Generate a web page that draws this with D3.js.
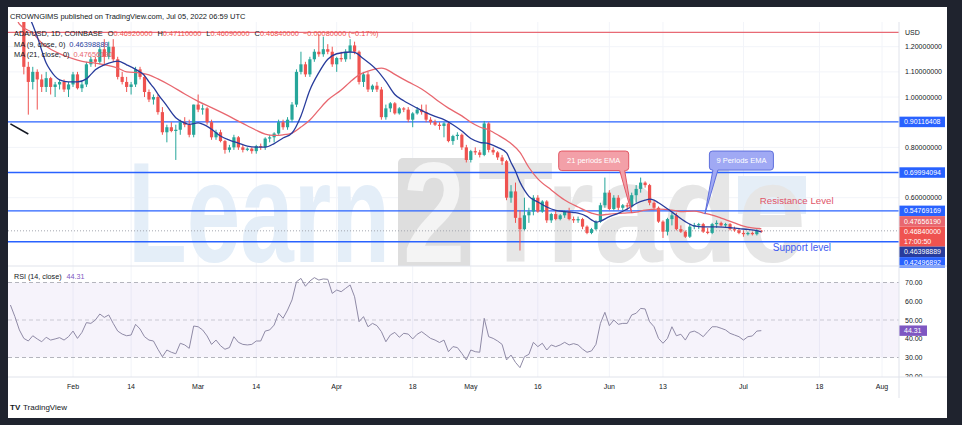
<!DOCTYPE html>
<html>
<head>
<meta charset="utf-8">
<script src="https://cdn.jsdelivr.net/npm/d3@7"></script>
<style>
html, body { margin: 0; padding: 0; background: #1f232e; }
svg { display: block; }
text { font-family: "Liberation Sans", Arial, sans-serif; }
</style>
</head>
<body>
<svg id="chart" width="962" height="425"></svg>
<script>
// ADA/USD daily candles, first one is Jan 21 2022, one row per day: [open, high, low, close]
const candleStart = "2022-01-21";
const candles = [
  [1.36, 1.37, 1.09, 1.12], [1.12, 1.14, 0.93, 1.06], [1.06, 1.12, 1.03, 1.10], [1.10, 1.11, 0.95, 1.07], [1.07, 1.09, 1.02, 1.04],
  [1.04, 1.10, 1.02, 1.075], [1.075, 1.08, 1.01, 1.04], [1.04, 1.06, 1.00, 1.05], [1.05, 1.07, 1.03, 1.06], [1.06, 1.07, 1.02, 1.03],
  [1.03, 1.06, 1.00, 1.05], [1.05, 1.10, 1.04, 1.09], [1.09, 1.10, 1.03, 1.035], [1.035, 1.06, 1.02, 1.05], [1.05, 1.14, 1.04, 1.13],
  [1.13, 1.16, 1.12, 1.15], [1.15, 1.16, 1.12, 1.14], [1.14, 1.20, 1.13, 1.19], [1.19, 1.23, 1.13, 1.16], [1.16, 1.22, 1.15, 1.20],
  [1.20, 1.23, 1.14, 1.15], [1.15, 1.16, 1.07, 1.08], [1.08, 1.10, 1.05, 1.06], [1.06, 1.08, 1.02, 1.04], [1.04, 1.06, 1.01, 1.05],
  [1.05, 1.12, 1.04, 1.11], [1.11, 1.12, 1.07, 1.08], [1.08, 1.09, 1.00, 1.02], [1.02, 1.03, 0.98, 0.99], [0.99, 1.01, 0.97, 1.00],
  [1.00, 1.01, 0.93, 0.94], [0.94, 0.96, 0.85, 0.86], [0.86, 0.89, 0.82, 0.88], [0.88, 0.90, 0.86, 0.865], [0.865, 0.89, 0.75, 0.87],
  [0.87, 0.91, 0.85, 0.90], [0.90, 0.92, 0.88, 0.89], [0.89, 0.91, 0.84, 0.85], [0.85, 0.97, 0.84, 0.97], [0.97, 1.01, 0.94, 0.95],
  [0.95, 0.97, 0.93, 0.955], [0.955, 0.96, 0.89, 0.90], [0.90, 0.91, 0.83, 0.84], [0.84, 0.87, 0.83, 0.86], [0.86, 0.87, 0.82, 0.825],
  [0.825, 0.83, 0.775, 0.79], [0.79, 0.81, 0.78, 0.80], [0.80, 0.85, 0.79, 0.84], [0.84, 0.845, 0.79, 0.80], [0.80, 0.81, 0.78, 0.79],
  [0.79, 0.80, 0.785, 0.795], [0.795, 0.80, 0.775, 0.785], [0.785, 0.81, 0.775, 0.805], [0.805, 0.815, 0.79, 0.80], [0.80, 0.84, 0.79, 0.835],
  [0.835, 0.85, 0.82, 0.84], [0.84, 0.86, 0.82, 0.855], [0.855, 0.91, 0.85, 0.90], [0.90, 0.91, 0.87, 0.88], [0.88, 0.92, 0.87, 0.91],
  [0.91, 0.98, 0.90, 0.97], [0.97, 1.11, 0.96, 1.10], [1.10, 1.18, 1.09, 1.13], [1.13, 1.14, 1.08, 1.09], [1.09, 1.16, 1.08, 1.15],
  [1.15, 1.19, 1.14, 1.18], [1.18, 1.25, 1.16, 1.17], [1.17, 1.24, 1.16, 1.19], [1.19, 1.21, 1.17, 1.18], [1.18, 1.20, 1.12, 1.13],
  [1.13, 1.16, 1.10, 1.155], [1.155, 1.18, 1.14, 1.15], [1.15, 1.19, 1.14, 1.18], [1.18, 1.23, 1.15, 1.205], [1.205, 1.22, 1.17, 1.18],
  [1.18, 1.185, 1.05, 1.06], [1.06, 1.10, 1.04, 1.09], [1.09, 1.10, 1.02, 1.03], [1.03, 1.05, 1.02, 1.045], [1.045, 1.06, 1.02, 1.03],
  [1.03, 1.04, 0.91, 0.92], [0.92, 0.97, 0.91, 0.955], [0.955, 0.98, 0.94, 0.975], [0.975, 0.98, 0.93, 0.935], [0.935, 0.96, 0.93, 0.955],
  [0.955, 0.96, 0.94, 0.95], [0.95, 0.96, 0.90, 0.91], [0.91, 0.94, 0.88, 0.935], [0.935, 0.96, 0.93, 0.95], [0.95, 0.97, 0.93, 0.94],
  [0.94, 0.97, 0.90, 0.91], [0.91, 0.92, 0.89, 0.90], [0.90, 0.91, 0.885, 0.89], [0.89, 0.90, 0.87, 0.885], [0.885, 0.90, 0.84, 0.895],
  [0.895, 0.90, 0.82, 0.825], [0.825, 0.85, 0.81, 0.845], [0.845, 0.86, 0.83, 0.85], [0.85, 0.855, 0.79, 0.80], [0.80, 0.81, 0.74, 0.75],
  [0.75, 0.79, 0.74, 0.785], [0.785, 0.80, 0.77, 0.78], [0.78, 0.79, 0.76, 0.77], [0.77, 0.905, 0.765, 0.895], [0.895, 0.90, 0.78, 0.79],
  [0.79, 0.80, 0.77, 0.78], [0.78, 0.785, 0.75, 0.76], [0.76, 0.77, 0.73, 0.745], [0.745, 0.75, 0.59, 0.60], [0.60, 0.65, 0.58, 0.625],
  [0.625, 0.66, 0.50, 0.52], [0.52, 0.55, 0.39, 0.475], [0.475, 0.60, 0.47, 0.53], [0.53, 0.56, 0.50, 0.545], [0.545, 0.61, 0.53, 0.60],
  [0.60, 0.61, 0.54, 0.545], [0.545, 0.59, 0.54, 0.585], [0.585, 0.59, 0.50, 0.51], [0.51, 0.54, 0.50, 0.535], [0.535, 0.55, 0.51, 0.515],
  [0.515, 0.535, 0.51, 0.53], [0.53, 0.55, 0.52, 0.545], [0.545, 0.56, 0.51, 0.515], [0.515, 0.525, 0.50, 0.51], [0.51, 0.525, 0.50, 0.515],
  [0.515, 0.52, 0.475, 0.485], [0.485, 0.49, 0.455, 0.46], [0.46, 0.48, 0.455, 0.475], [0.475, 0.51, 0.47, 0.505], [0.505, 0.58, 0.50, 0.57],
  [0.57, 0.68, 0.56, 0.62], [0.62, 0.63, 0.55, 0.555], [0.555, 0.61, 0.55, 0.60], [0.60, 0.61, 0.55, 0.56], [0.56, 0.575, 0.55, 0.57],
  [0.57, 0.58, 0.55, 0.565], [0.565, 0.62, 0.56, 0.61], [0.61, 0.65, 0.58, 0.635], [0.635, 0.68, 0.62, 0.66], [0.66, 0.665, 0.64, 0.65],
  [0.65, 0.655, 0.57, 0.58], [0.58, 0.59, 0.55, 0.56], [0.56, 0.565, 0.50, 0.505], [0.505, 0.51, 0.44, 0.465], [0.465, 0.52, 0.45, 0.515],
  [0.515, 0.54, 0.49, 0.53], [0.53, 0.54, 0.47, 0.475], [0.475, 0.49, 0.46, 0.465], [0.465, 0.47, 0.44, 0.445], [0.445, 0.495, 0.44, 0.485],
  [0.485, 0.50, 0.475, 0.49], [0.49, 0.50, 0.475, 0.495], [0.495, 0.50, 0.46, 0.465], [0.465, 0.48, 0.455, 0.46], [0.46, 0.50, 0.455, 0.495],
  [0.495, 0.51, 0.48, 0.50], [0.50, 0.505, 0.485, 0.49], [0.49, 0.50, 0.48, 0.495], [0.495, 0.50, 0.47, 0.475], [0.475, 0.485, 0.465, 0.47],
  [0.47, 0.48, 0.455, 0.46], [0.46, 0.47, 0.445, 0.455], [0.455, 0.465, 0.45, 0.46], [0.46, 0.465, 0.45, 0.455], [0.455, 0.475, 0.45, 0.4692],
  [0.4692, 0.4711, 0.4609, 0.4684]
];

// moving averages
const ma9 = [
  ["2022-01-22", 1.33], ["2022-01-23", 1.286], ["2022-01-24", 1.24], ["2022-01-25", 1.185], ["2022-01-26", 1.135],
  ["2022-01-27", 1.105], ["2022-01-28", 1.082], ["2022-01-29", 1.068], ["2022-01-31", 1.06], ["2022-02-02", 1.06],
  ["2022-02-04", 1.072], ["2022-02-05", 1.09], ["2022-02-06", 1.108], ["2022-02-08", 1.128], ["2022-02-10", 1.14],
  ["2022-02-11", 1.143], ["2022-02-13", 1.128], ["2022-02-15", 1.11], ["2022-02-17", 1.085], ["2022-02-18", 1.06],
  ["2022-02-19", 1.038], ["2022-02-20", 1.012], ["2022-02-22", 0.965], ["2022-02-24", 0.918], ["2022-02-26", 0.897],
  ["2022-02-27", 0.891], ["2022-03-01", 0.897], ["2022-03-02", 0.892], ["2022-03-04", 0.872], ["2022-03-06", 0.845],
  ["2022-03-08", 0.829], ["2022-03-10", 0.817], ["2022-03-12", 0.805], ["2022-03-14", 0.801], ["2022-03-16", 0.801],
  ["2022-03-18", 0.815], ["2022-03-20", 0.837], ["2022-03-22", 0.857], ["2022-03-24", 0.925], ["2022-03-26", 1.028],
  ["2022-03-28", 1.097], ["2022-03-30", 1.15], ["2022-04-01", 1.172], ["2022-04-04", 1.179], ["2022-04-05", 1.177],
  ["2022-04-07", 1.152], ["2022-04-10", 1.107], ["2022-04-12", 1.062], ["2022-04-14", 1.01], ["2022-04-16", 0.985],
  ["2022-04-19", 0.956], ["2022-04-21", 0.938], ["2022-04-23", 0.923], ["2022-04-25", 0.91], ["2022-04-27", 0.89],
  ["2022-04-29", 0.865], ["2022-05-01", 0.835], ["2022-05-03", 0.82], ["2022-05-05", 0.815], ["2022-05-07", 0.80],
  ["2022-05-09", 0.778], ["2022-05-10", 0.74], ["2022-05-11", 0.705], ["2022-05-12", 0.662], ["2022-05-13", 0.63],
  ["2022-05-14", 0.605], ["2022-05-16", 0.583], ["2022-05-18", 0.563], ["2022-05-20", 0.55], ["2022-05-22", 0.545],
  ["2022-05-24", 0.541], ["2022-05-25", 0.539], ["2022-05-27", 0.525], ["2022-05-28", 0.512], ["2022-05-29", 0.503],
  ["2022-05-30", 0.507], ["2022-06-01", 0.525], ["2022-06-03", 0.538], ["2022-06-05", 0.555], ["2022-06-07", 0.577],
  ["2022-06-09", 0.59], ["2022-06-10", 0.594], ["2022-06-11", 0.59], ["2022-06-12", 0.58], ["2022-06-14", 0.556],
  ["2022-06-16", 0.53], ["2022-06-18", 0.505], ["2022-06-20", 0.488], ["2022-06-22", 0.484], ["2022-06-25", 0.484],
  ["2022-06-28", 0.481], ["2022-06-30", 0.477], ["2022-07-02", 0.474], ["2022-07-04", 0.469], ["2022-07-05", 0.46398889]
];
const ma21 = [
  ["2022-01-19", 1.33], ["2022-01-20", 1.29], ["2022-01-23", 1.254], ["2022-01-25", 1.215], ["2022-01-27", 1.19],
  ["2022-01-30", 1.165], ["2022-02-02", 1.147], ["2022-02-04", 1.139], ["2022-02-06", 1.135], ["2022-02-09", 1.125],
  ["2022-02-11", 1.115], ["2022-02-13", 1.10], ["2022-02-16", 1.096], ["2022-02-18", 1.088], ["2022-02-20", 1.072],
  ["2022-02-23", 1.044], ["2022-02-26", 1.012], ["2022-03-01", 0.983], ["2022-03-04", 0.958], ["2022-03-07", 0.932],
  ["2022-03-10", 0.904], ["2022-03-12", 0.886], ["2022-03-14", 0.868], ["2022-03-16", 0.853], ["2022-03-18", 0.848],
  ["2022-03-20", 0.85], ["2022-03-22", 0.857], ["2022-03-24", 0.881], ["2022-03-26", 0.909], ["2022-03-28", 0.949],
  ["2022-03-30", 0.988], ["2022-04-02", 1.028], ["2022-04-04", 1.06], ["2022-04-06", 1.088], ["2022-04-08", 1.103],
  ["2022-04-11", 1.115], ["2022-04-12", 1.111], ["2022-04-14", 1.09], ["2022-04-17", 1.06], ["2022-04-20", 1.032],
  ["2022-04-22", 1.007], ["2022-04-24", 0.98], ["2022-04-26", 0.956], ["2022-04-29", 0.925], ["2022-05-01", 0.90],
  ["2022-05-03", 0.881], ["2022-05-05", 0.869], ["2022-05-07", 0.85], ["2022-05-10", 0.815], ["2022-05-12", 0.78],
  ["2022-05-14", 0.72], ["2022-05-16", 0.675], ["2022-05-19", 0.631], ["2022-05-22", 0.591], ["2022-05-25", 0.563],
  ["2022-05-28", 0.539], ["2022-05-30", 0.531], ["2022-06-01", 0.535], ["2022-06-04", 0.539], ["2022-06-07", 0.543],
  ["2022-06-09", 0.551], ["2022-06-12", 0.555], ["2022-06-15", 0.551], ["2022-06-17", 0.545], ["2022-06-20", 0.547],
  ["2022-06-22", 0.539], ["2022-06-24", 0.531], ["2022-06-26", 0.519], ["2022-06-29", 0.50], ["2022-07-01", 0.487],
  ["2022-07-03", 0.48], ["2022-07-05", 0.4765619]
];

// RSI(14), one value per day from Jan 18 2022
const rsiStart = "2022-01-18";
const rsi = [
  58.0, 51.8, 44.7, 40.2, 38.8, 41.6, 39.9, 38.4, 40.8, 39.3, 39.9, 40.6, 39.3, 41.1, 44.1, 40.2, 43.4, 48.6, 48.2, 50.0,
  53.2, 51.4, 52.7, 48.2, 44.1, 42.5, 41.6, 42.0, 47.7, 45.2, 41.1, 39.3, 38.8, 34.4, 30.4, 34.0, 32.8, 32.0, 37.6, 36.7,
  34.9, 46.8, 46.4, 44.7, 41.5, 37.0, 39.3, 36.3, 34.4, 35.3, 41.1, 38.1, 37.0, 36.7, 37.0, 38.8, 38.8, 44.1, 44.7, 47.3,
  53.6, 50.9, 55.3, 60.7, 70.4, 72.2, 68.0, 70.8, 72.6, 71.3, 71.9, 71.7, 64.2, 66.0, 65.1, 66.9, 68.7, 62.4, 49.1, 51.8,
  46.4, 48.2, 47.0, 43.8, 38.4, 42.0, 43.4, 40.8, 42.9, 42.5, 39.9, 42.4, 43.8, 42.0, 40.2, 39.3, 38.0, 39.3, 33.1, 35.8,
  35.3, 32.2, 28.7, 34.0, 33.1, 32.8, 50.9, 41.1, 40.2, 38.8, 37.0, 28.7, 31.3, 27.4, 24.6, 30.4, 31.7, 38.1, 35.8, 37.6,
  34.0, 36.7, 35.8, 36.7, 38.1, 36.7, 37.4, 36.7, 34.5, 32.8, 33.5, 37.0, 48.2, 54.1, 47.0, 50.0, 47.7, 48.2, 48.2, 52.7,
  53.6, 56.2, 55.9, 49.1, 46.4, 40.2, 37.6, 40.2, 46.4, 41.6, 42.4, 39.3, 43.4, 44.1, 42.9, 41.1, 43.8, 46.4, 46.4, 45.6,
  44.7, 42.9, 42.0, 41.1, 39.3, 41.1, 41.5, 44.1, 44.31
];

const levels = [0.90116408, 0.69994094, 0.54769169, 0.42496892];
const topLevel = 1.257;
const priceTicks = [1.2, 1.1, 1.0, 0.8, 0.6];
const rsiTicks = [70, 60, 50, 40, 30, 20];
const timeTicks = [
  ["2022-02-01", "Feb"], ["2022-02-14", "14"], ["2022-03-01", "Mar"], ["2022-03-14", "14"], ["2022-04-01", "Apr"],
  ["2022-04-18", "18"], ["2022-05-01", "May"], ["2022-05-16", "16"], ["2022-06-01", "Jun"], ["2022-06-13", "13"],
  ["2022-07-01", "Jul"], ["2022-07-18", "18"], ["2022-08-01", "Aug"]
];
const trendLine = [["2022-01-18", 0.893], ["2022-01-22", 0.853]];
const lastClose = 0.4684, lastMa9 = 0.46398889, lastMa21 = 0.4765619, lastRsi = 44.31;

const up = "#26a69a", down = "#ef5350";
const ma9Color = "#283c9c", ma21Color = "#e8676f", levelColor = "#2962ff";

const svg = d3.select("#chart");
const pane = {left: 8, right: 899, top: 22, bottom: 266};
const rsiPane = {top: 266, bottom: 377};

const utc = s => new Date(s.length > 10 ? s : s + "T00:00:00Z");
const dayAfter = (start, i) => new Date(utc(start).getTime() + i * 864e5);

const x = d3.scaleUtc().domain([utc("2022-02-01"), utc("2022-08-01")]).range([73, 882]);
const y = d3.scaleLinear().domain([1.2, 0.6]).range([46.7, 197.7]);
const ry = d3.scaleLinear().domain([70, 30]).range([282.5, 357.5]);

const bars = candles.map((r, i) => ({date: dayAfter(candleStart, i), o: r[0], h: r[1], l: r[2], c: r[3]}));

// backgrounds
svg.append("rect").attr("width", 962).attr("height", 425).attr("fill", "#1f232e");
svg.append("rect").attr("x", 8).attr("y", 7).attr("width", 939).attr("height", 411).attr("fill", "#ffffff");

const defs = svg.append("defs");
defs.append("clipPath").attr("id", "mainClip").append("rect")
  .attr("x", pane.left).attr("y", pane.top).attr("width", pane.right - pane.left).attr("height", pane.bottom - pane.top);
defs.append("clipPath").attr("id", "rsiClip").append("rect")
  .attr("x", pane.left).attr("y", rsiPane.top).attr("width", pane.right - pane.left).attr("height", rsiPane.bottom - rsiPane.top);
defs.append("clipPath").attr("id", "rsiAxisClip").append("rect")
  .attr("x", pane.right).attr("y", rsiPane.top).attr("width", 48).attr("height", rsiPane.bottom - rsiPane.top);

// grid
svg.append("g").selectAll("line").data(timeTicks).join("line")
  .attr("x1", d => x(utc(d[0]))).attr("x2", d => x(utc(d[0])))
  .attr("y1", pane.top).attr("y2", rsiPane.bottom)
  .attr("stroke", "#f2f4f9").attr("stroke-width", 1);
svg.append("g").selectAll("line").data(priceTicks).join("line")
  .attr("x1", pane.left).attr("x2", pane.right)
  .attr("y1", d => y(d)).attr("y2", d => y(d))
  .attr("stroke", "#f2f4f9").attr("stroke-width", 1);

// watermark
const wm = svg.append("g").attr("clip-path", "url(#mainClip)").style("font-weight", "bold");
wm.append("text").attr("x", 128).attr("y", 262).attr("font-size", 142)
  .attr("textLength", 262).attr("lengthAdjust", "spacingAndGlyphs")
  .attr("fill", "#e4eef8").text("Learn");
wm.append("rect").attr("x", 398).attr("y", 158).attr("width", 72).attr("height", 112).attr("rx", 5)
  .attr("fill", "#dedede");
wm.append("text").attr("x", 434).attr("y", 262).attr("text-anchor", "middle").attr("font-size", 142)
  .attr("textLength", 62).attr("lengthAdjust", "spacingAndGlyphs")
  .attr("fill", "#f4f4f4").text("2");
wm.append("rect").attr("x", 738).attr("y", 176).attr("width", 68).attr("height", 38).attr("fill", "#e5eef7");
wm.append("text").attr("x", 478).attr("y", 262).attr("font-size", 142)
  .attr("textLength", 328).attr("lengthAdjust", "spacingAndGlyphs")
  .attr("fill", "#e6e6e6").text("Trade");

// RSI band and guides
svg.append("rect").attr("x", pane.left).attr("y", ry(70)).attr("width", pane.right - pane.left)
  .attr("height", ry(30) - ry(70)).attr("fill", "#7e57c2").attr("fill-opacity", 0.07);
svg.append("g").selectAll("line").data([70, 50, 30]).join("line")
  .attr("x1", pane.left).attr("x2", pane.right).attr("y1", d => ry(d)).attr("y2", d => ry(d))
  .attr("stroke", "#9598a1").attr("stroke-opacity", d => d === 50 ? 0.45 : 0.7)
  .attr("stroke-dasharray", "4,3");

// horizontal levels
const main = svg.append("g").attr("clip-path", "url(#mainClip)");
main.selectAll("line.level").data(levels).join("line").attr("class", "level")
  .attr("x1", pane.left).attr("x2", pane.right).attr("y1", d => y(d)).attr("y2", d => y(d))
  .attr("stroke", levelColor).attr("stroke-width", 1.4);
main.append("line").attr("x1", pane.left).attr("x2", pane.right)
  .attr("y1", y(topLevel)).attr("y2", y(topLevel))
  .attr("stroke", "#e86a75").attr("stroke-width", 1.4);
main.append("line").attr("x1", pane.left).attr("x2", pane.right)
  .attr("y1", y(lastClose)).attr("y2", y(lastClose))
  .attr("stroke", "#a3a6af").attr("stroke-dasharray", "1,2");

// candles
main.selectAll("line.wick").data(bars).join("line").attr("class", "wick")
  .attr("x1", d => x(d.date)).attr("x2", d => x(d.date))
  .attr("y1", d => y(d.h)).attr("y2", d => y(d.l))
  .attr("stroke", d => d.c >= d.o ? up : down).attr("stroke-width", 1);
main.selectAll("rect.body").data(bars).join("rect").attr("class", "body")
  .attr("x", d => x(d.date) - 1.6).attr("width", 3.2)
  .attr("y", d => y(Math.max(d.o, d.c)))
  .attr("height", d => Math.max(1, Math.abs(y(d.o) - y(d.c))))
  .attr("fill", d => d.c >= d.o ? up : down);

// moving averages
const maLine = d3.line().x(d => x(utc(d[0]))).y(d => y(d[1])).curve(d3.curveMonotoneX);
main.append("path").attr("d", maLine(ma21)).attr("fill", "none").attr("stroke", ma21Color).attr("stroke-width", 1.3);
main.append("path").attr("d", maLine(ma9)).attr("fill", "none").attr("stroke", ma9Color).attr("stroke-width", 1.3);

// trend line drawing
main.append("line")
  .attr("x1", x(utc(trendLine[0][0]))).attr("y1", y(trendLine[0][1]))
  .attr("x2", x(utc(trendLine[1][0]))).attr("y2", y(trendLine[1][1]))
  .attr("stroke", "#131722").attr("stroke-width", 1.5);

// callouts
function calloutPath(x0, y0, w, h, r, t0, t1, tx, ty) {
  const x1 = x0 + w, y1 = y0 + h;
  return `M${x0 + r},${y0}H${x1 - r}Q${x1},${y0} ${x1},${y0 + r}V${y1 - r}Q${x1},${y1} ${x1 - r},${y1}` +
    `H${t1}L${tx},${ty}L${t0},${y1}H${x0 + r}Q${x0},${y1} ${x0},${y1 - r}V${y0 + r}Q${x0},${y0} ${x0 + r},${y0}Z`;
}
const callouts = [
  {text: "21 periods EMA", date: "2022-06-06", price: 0.539, dx: -73, dy: -62, w: 70, h: 19.5, t0: 61, t1: 66, fill: "#f3a0a8", stroke: "#e25865"},
  {text: "9 Periods EMA", date: "2022-06-22T09:00:00Z", price: 0.535, dx: 4.5, dy: -63, w: 64, h: 19, t0: 3.5, t1: 8.5, fill: "#a0a9f4", stroke: "#5f6fdc"}
];
callouts.forEach(c => {
  const tx = x(utc(c.date)), ty = y(c.price);
  const x0 = tx + c.dx, y0 = ty + c.dy;
  svg.append("path").attr("d", calloutPath(x0, y0, c.w, c.h, 3, x0 + c.t0, x0 + c.t1, tx, ty))
    .attr("fill", c.fill).attr("stroke", c.stroke).attr("stroke-width", 1);
  svg.append("text").attr("x", x0 + c.w / 2).attr("y", y0 + c.h / 2 + 2.6).attr("text-anchor", "middle")
    .attr("font-size", 7.5).attr("fill", "#ffffff").text(c.text);
});
svg.append("text").attr("x", x(utc("2022-07-05")) - 1.5).attr("y", y(levels[2]) - 7)
  .attr("font-size", 9.7).attr("fill", "#e0566a").text("Resistance Level");
svg.append("text").attr("x", x(utc("2022-07-08")) - 2).attr("y", y(levels[3]) + 9)
  .attr("font-size", 10).attr("fill", "#3f5bf0").text("Support level");

// header and legend
svg.append("text").attr("x", 10).attr("y", 19).attr("font-size", 7.5).attr("fill", "#131722")
  .text("CROWNGIMS published on TradingView.com, Jul 05, 2022 06:59 UTC");
const leg = svg.append("text").attr("x", 14).attr("y", 36).attr("font-size", 7.4).attr("fill", "#131722");
leg.append("tspan").text("ADA/USD, 1D, COINBASE");
[["O", "0.46920000"], ["H", "0.47110000"], ["L", "0.46090000"], ["C", "0.46840000"]].forEach(p => {
  leg.append("tspan").attr("dx", 5).text(p[0]);
  leg.append("tspan").attr("fill", down).text(p[1]);
});
leg.append("tspan").attr("dx", 4).attr("fill", down).text("\u22120.00080000 (\u22120.17%)");
const leg2 = svg.append("text").attr("x", 14).attr("y", 46.5).attr("font-size", 7.4).attr("fill", "#131722");
leg2.append("tspan").text("MA (9, close, 0)");
leg2.append("tspan").attr("dx", 4).attr("fill", ma9Color).text(lastMa9.toFixed(8));
const leg3 = svg.append("text").attr("x", 14).attr("y", 57).attr("font-size", 7.4).attr("fill", "#131722");
leg3.append("tspan").text("MA (21, close, 0)");
leg3.append("tspan").attr("dx", 4).attr("fill", ma21Color).text(lastMa21.toFixed(8));

// price axis
svg.append("text").attr("x", 905).attr("y", 34.5).attr("font-size", 7).attr("fill", "#131722").text("USD");
svg.append("g").selectAll("text").data(priceTicks).join("text")
  .attr("x", 905).attr("y", d => y(d) + 2.5).attr("font-size", 7).attr("fill", "#131722")
  .text(d => d3.format(".8f")(d));

const tags = [
  ...levels.map(v => ({v, bg: levelColor})),
  {v: lastMa21, bg: ma21Color},
  {v: lastClose, bg: down, sub: "17:00:50"},
  {v: lastMa9, bg: ma9Color}
].sort((a, b) => b.v - a.v);
tags.forEach(t => { t.h = t.sub ? 20 : 10.5; t.cy = y(t.v); });
// group tags that overlap, centre each group, keep groups from overlapping
const groups = [];
tags.forEach(t => {
  const g = groups[groups.length - 1];
  if (g && t.cy - t.h / 2 < g.natBottom) { g.items.push(t); g.natBottom = Math.max(g.natBottom, t.cy + t.h / 2); }
  else groups.push({items: [t], natBottom: t.cy + t.h / 2});
});
let prevBottom = -Infinity;
groups.forEach(g => {
  const total = d3.sum(g.items, d => d.h);
  let top = Math.max(d3.mean(g.items, d => d.cy) - total / 2, prevBottom);
  g.items.forEach(t => { t.top = top; top += t.h; });
  prevBottom = top;
});
const tagG = svg.append("g").selectAll("g").data(tags).join("g");
tagG.append("rect").attr("x", 899).attr("y", d => d.top).attr("width", 46).attr("height", d => d.h)
  .attr("fill", d => d.bg);
tagG.append("text").attr("x", 904).attr("y", d => d.top + 7.6).attr("font-size", 7).attr("fill", "#ffffff")
  .text(d => d.v.toFixed(8));
tagG.filter(d => d.sub).append("text").attr("x", 904).attr("y", d => d.top + 17).attr("font-size", 7)
  .attr("fill", "#ffffff").text(d => d.sub);

// RSI pane
svg.append("text").attr("x", 14).attr("y", 279).attr("font-size", 7.2).attr("fill", "#131722")
  .text("RSI (14, close)").append("tspan").attr("dx", 5).attr("fill", "#7e57c2").text(lastRsi.toFixed(2));
const rsiLine = d3.line().x((d, i) => x(dayAfter(rsiStart, i))).y(d => ry(d));
svg.append("path").attr("clip-path", "url(#rsiClip)").attr("d", rsiLine(rsi))
  .attr("fill", "none").attr("stroke", "#8f8aa6").attr("stroke-width", 1);
svg.append("g").attr("clip-path", "url(#rsiAxisClip)").selectAll("text").data(rsiTicks).join("text")
  .attr("x", 905).attr("y", d => ry(d) + 2.5).attr("font-size", 7).attr("fill", "#131722")
  .text(d => d.toFixed(2));
svg.append("rect").attr("x", 899).attr("y", ry(lastRsi) - 5.2).attr("width", 28).attr("height", 10.4)
  .attr("fill", "#7e57c2");
svg.append("text").attr("x", 904).attr("y", ry(lastRsi) + 2.5).attr("font-size", 7).attr("fill", "#ffffff")
  .text(lastRsi.toFixed(2));

// time axis
svg.append("g").selectAll("text").data(timeTicks).join("text")
  .attr("x", d => x(utc(d[0]))).attr("y", 389).attr("text-anchor", "middle")
  .attr("font-size", 7).attr("fill", "#131722").text(d => d[1]);

// separators
svg.append("line").attr("x1", 8).attr("x2", 947).attr("y1", rsiPane.top).attr("y2", rsiPane.top)
  .attr("stroke", "#e0e3eb");
svg.append("line").attr("x1", 8).attr("x2", 947).attr("y1", rsiPane.bottom).attr("y2", rsiPane.bottom)
  .attr("stroke", "#e0e3eb");
svg.append("line").attr("x1", pane.right).attr("x2", pane.right).attr("y1", pane.top).attr("y2", 398)
  .attr("stroke", "#e0e3eb");

// footer logo
svg.append("text").attr("x", 10).attr("y", 410).attr("font-size", 8).attr("font-weight", "bold")
  .attr("fill", "#131722").text("TV");
svg.append("text").attr("x", 23).attr("y", 410).attr("font-size", 8).attr("fill", "#131722").text("TradingView");
</script>
</body>
</html>
